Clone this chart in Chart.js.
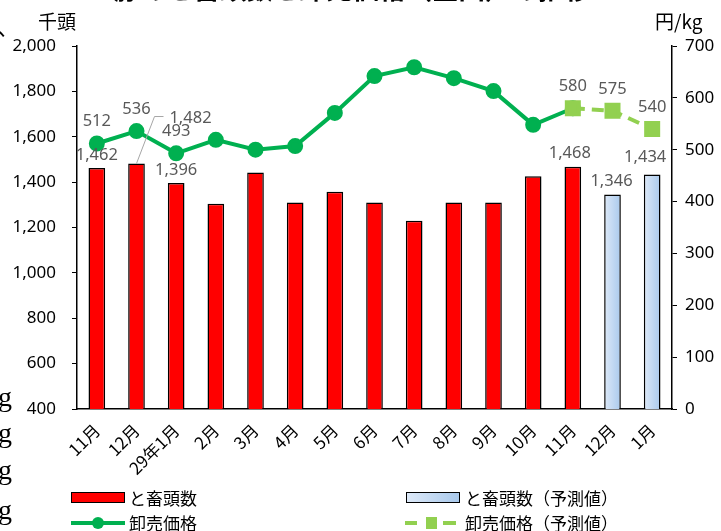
<!DOCTYPE html>
<html>
<head>
<meta charset="utf-8">
<script src="https://cdn.jsdelivr.net/npm/chart.js@4"></script>
<style>
  body { margin: 0; background: #fff; font-family: "Noto Sans CJK JP", sans-serif; }
  #wrap { position: relative; width: 721px; height: 531px; overflow: hidden; }
  canvas { position: absolute; left: 0; top: 0; }
  .t { position: absolute; white-space: nowrap; color: #000; }
  .title { font-size: 26.5px; line-height: 26.5px; font-weight: bold; left: 114px; top: -25px; }
  .unit { font-size: 19px; line-height: 19px; top: 11px; }
  .edge { font-family: "Liberation Serif", serif; font-size: 28px; line-height: 28px; left: -2px; }
  .leg { position: absolute; font-size: 17px; line-height: 17px; white-space: nowrap; }
  .box { position: absolute; width: 52px; height: 9px; border: 1px solid #000; }
</style>
</head>
<body>
<div id="wrap">
  <canvas id="chart" width="721" height="531"></canvas>
  <div class="t title">豚のと畜頭数と卸売価格（全国）の推移</div>
  <div class="t" style="left:-3px; top:14px; font-size:22px; line-height:22px;">、</div>
  <div class="t unit" style="left:38px;">千頭</div>
  <div class="t unit" style="left:655px;">円/kg</div>
  <div class="t edge" style="top:383px;">g</div>
  <div class="t edge" style="top:419px;">g</div>
  <div class="t edge" style="top:456px;">g</div>
  <div class="t edge" style="top:496px;">g</div>

  <div class="box" style="left:71px; top:492px; background:#ff0000;"></div>
  <div class="leg" style="left:129px; top:489px;">と畜頭数</div>
  <div class="box" style="left:406px; top:492px; background:linear-gradient(to right,#dde9f8,#a9c9ec);"></div>
  <div class="leg" style="left:465px; top:489px;">と畜頭数（予測値）</div>

  <div style="position:absolute; left:71px; top:521px; width:54px; height:4px; background:#00b050;"></div>
  <div style="position:absolute; left:92px; top:517px; width:12px; height:12px; border-radius:6px; background:#00b050;"></div>
  <div class="leg" style="left:129px; top:514px;">卸売価格</div>
  <div style="position:absolute; left:405px; top:521px; width:12px; height:4px; background:#92d050;"></div>
  <div style="position:absolute; left:426px; top:517px; width:11px; height:12px; background:#92d050;"></div>
  <div style="position:absolute; left:443px; top:521px; width:13px; height:4px; background:#92d050;"></div>
  <div class="leg" style="left:465px; top:514px;">卸売価格（予測値）</div>
</div>
<script>
const months = ["11月", "12月", "29年1月", "2月", "3月", "4月", "5月", "6月", "7月", "8月", "9月", "10月", "11月", "12月", "1月"];
const headCount = [1462, 1482, 1396, 1305, 1442, 1310, 1358, 1310, 1230, 1310, 1310, 1426, 1468, null, null];
const headCountForecast = [null, null, null, null, null, null, null, null, null, null, null, null, null, 1346, 1434];
const price = [512, 536, 493, 519, 500, 507, 571, 642, 659, 638, 613, 548, 580, null, null];
const priceForecast = [null, null, null, null, null, null, null, null, null, null, null, null, 580, 575, 540];
const leftTicks = [400, 600, 800, 1000, 1200, 1400, 1600, 1800, 2000];
const rightTicks = [0, 100, 200, 300, 400, 500, 600, 700];

// which points get a value label: [dataset index, point index]
const labelled = [
  [2, 0], [2, 1], [2, 2], [3, 12], [3, 13], [3, 14],
  [0, 0], [0, 1], [0, 2], [0, 12], [1, 13], [1, 14]
];

const valueLabels = {
  id: "valueLabels",
  afterDatasetsDraw(chart) {
    const ctx = chart.ctx;
    ctx.save();
    ctx.font = "16.5px 'Noto Sans', sans-serif";
    ctx.fillStyle = "#595959";
    ctx.textAlign = "center";
    ctx.textBaseline = "middle";
    labelled.forEach(([d, i]) => {
      const el = chart.getDatasetMeta(d).data[i];
      const v = chart.data.datasets[d].data[i];
      const txt = v.toLocaleString("en-US");
      let x = el.x, y = el.y - (d >= 2 ? 22 : 13);
      if (d === 0 && i === 1) {
        // leader line to the shifted label
        ctx.strokeStyle = "#a6a6a6";
        ctx.lineWidth = 1;
        ctx.beginPath();
        ctx.moveTo(el.x, el.y);
        ctx.lineTo(el.x + 18, el.y - 47);
        ctx.lineTo(el.x + 27, el.y - 47);
        ctx.stroke();
        x = el.x + 54; y = el.y - 45;
      }
      if (d === 1 && i === 14) { x = el.x - 7; y = el.y - 17; }
      if (d === 1 && i === 13) { x = el.x - 1; }
      if (d === 0 && i === 12) { x = el.x - 3; }
      ctx.fillText(txt, x, y);
    });
    ctx.restore();
  }
};

function forecastFill(context) {
  const chart = context.chart;
  const xs = chart.scales.x;
  if (!xs || !chart.chartArea) return "#bdd7ee";
  const x = xs.getPixelForValue(context.dataIndex);
  const w = 17;
  if (!Number.isFinite(x)) return "#bdd7ee";
  const g = chart.ctx.createLinearGradient(x - w / 2, 0, x + w / 2, 0);
  g.addColorStop(0, "#dde9f8");
  g.addColorStop(1, "#a9c9ec");
  return g;
}

const ctx = document.getElementById("chart").getContext("2d");
new Chart(ctx, {
  data: {
    labels: months,
    datasets: [
      {
        type: "bar", label: "と畜頭数", data: headCount, yAxisID: "y",
        backgroundColor: "#ff0000", borderColor: "#000", borderWidth: 1.5,
        barPercentage: 0.42, categoryPercentage: 1, grouped: false, order: 3
      },
      {
        type: "bar", label: "と畜頭数（予測値）", data: headCountForecast, yAxisID: "y",
        backgroundColor: forecastFill, borderColor: "#000", borderWidth: 1.5,
        barPercentage: 0.42, categoryPercentage: 1, grouped: false, order: 3
      },
      {
        type: "line", label: "卸売価格", data: price, yAxisID: "y1",
        borderColor: "#00b050", backgroundColor: "#00b050", borderWidth: 4,
        pointRadius: 6, pointStyle: "circle", tension: 0, order: 2
      },
      {
        type: "line", label: "卸売価格（予測値）", data: priceForecast, yAxisID: "y1",
        borderColor: "#92d050", backgroundColor: "#92d050", borderWidth: 4,
        borderDash: [12, 7], pointRadius: 8.5, pointStyle: "rect", tension: 0, order: 1
      }
    ]
  },
  options: {
    responsive: false,
    animation: false,
    events: [],
    layout: { padding: { top: 46, left: 0, right: 0, bottom: 0 } },
    plugins: { legend: { display: false }, tooltip: { enabled: false } },
    scales: {
      x: {
        grid: { display: false },
        border: { display: true, color: "#000", width: 1.5 },
        ticks: {
          color: "#000", minRotation: 45, maxRotation: 45, padding: 3, autoSkip: false,
          font: { family: "'Noto Sans CJK JP', sans-serif", size: 17 }
        },
        afterFit(scale) { scale.height = 122; }
      },
      y: {
        position: "left", min: 400, max: 2000,
        afterBuildTicks(scale) { scale.ticks = leftTicks.map(v => ({ value: v })); },
        grid: { drawOnChartArea: false, drawTicks: true, tickLength: 5, color: "#000" },
        border: { display: true, color: "#000", width: 1.5 },
        ticks: {
          color: "#000", padding: 16,
          font: { family: "'Noto Sans', sans-serif", size: 17 },
          callback: v => v.toLocaleString("en-US")
        },
        afterFit(scale) { scale.width = 77; }
      },
      y1: {
        position: "right", min: 0, max: 700,
        afterBuildTicks(scale) { scale.ticks = rightTicks.map(v => ({ value: v })); },
        grid: { drawOnChartArea: false, drawTicks: true, tickLength: 5, color: "#000" },
        border: { display: true, color: "#000", width: 1.5 },
        ticks: {
          color: "#000", padding: 8,
          font: { family: "'Noto Sans', sans-serif", size: 17 }
        },
        afterFit(scale) { scale.width = 49; }
      }
    }
  },
  plugins: [valueLabels]
});
</script>
</body>
</html>
